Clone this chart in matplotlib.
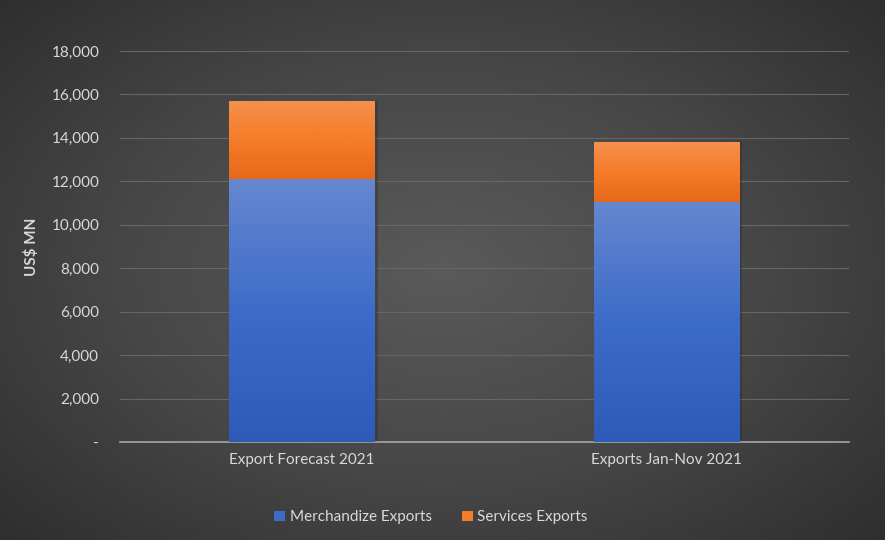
import numpy as np
import matplotlib
matplotlib.use("Agg")
import matplotlib.pyplot as plt
from matplotlib.colors import LinearSegmentedColormap
from matplotlib.patches import Patch
from matplotlib.ticker import FuncFormatter

categories = ["Export Forecast 2021", "Exports Jan-Nov 2021"]
merchandise = [12100, 11060]
services = [3610, 2740]
series_names = ["Merchandize Exports", "Services Exports"]

plt.rcParams['font.family'] = ['Lato', 'DejaVu Sans']
txt = "#d9d9d9"

fig = plt.figure(figsize=(8.85, 5.4), dpi=100)

# radial gradient background
bg = fig.add_axes([0, 0, 1, 1], zorder=-10)
yy, xx = np.mgrid[-1:1:270j, -1:1:443j]
r = np.sqrt((xx * 0.9) ** 2 + (yy * 0.85) ** 2)
bgcmap = LinearSegmentedColormap.from_list("bg", ["#5a5a5a", "#474747", "#2c2c2c"])
bg.imshow(r, cmap=bgcmap, vmin=0, vmax=1.3, aspect="auto", extent=[0, 1, 0, 1])
bg.set_axis_off()

ax = fig.add_axes([0.1356, 0.1815, 0.8234, 0.7241])
ax.patch.set_alpha(0)

blue_cmap = LinearSegmentedColormap.from_list("b", ["#2d5bb7", "#3d6cc8", "#6587d0"])
orange_cmap = LinearSegmentedColormap.from_list("o", ["#e6691a", "#f57c28", "#f5914f"])

x = np.arange(len(categories))
w = 0.4


def grad_bar(xc, bottom, height, cmap):
    bar = ax.bar(xc, height, w, bottom=bottom, color="none", edgecolor="none", zorder=3)[0]
    grad = np.linspace(0, 1, 256).reshape(-1, 1)
    im = ax.imshow(grad, cmap=cmap, origin="lower", aspect="auto",
                   extent=[xc - w / 2, xc + w / 2, bottom, bottom + height], zorder=3)
    im.set_clip_path(bar)
    # faint shadow
    ax.bar(xc + 0.008, height, w, bottom=bottom, color="#262626", alpha=0.35, zorder=2.5)


for i in range(len(categories)):
    grad_bar(x[i], 0, merchandise[i], blue_cmap)
    grad_bar(x[i], merchandise[i], services[i], orange_cmap)

ax.set_xlim(-0.5, 1.5)
ax.set_ylim(0, 18000)
ax.set_yticks(np.arange(0, 18001, 2000))
ax.yaxis.set_major_formatter(FuncFormatter(lambda v, p: "-" if v == 0 else "{:,.0f}".format(v)))
ax.set_xticks(x)
ax.set_xticklabels(categories)
ax.tick_params(axis="both", length=0, colors=txt, labelsize=11)
ax.tick_params(axis="y", pad=15)
ax.tick_params(axis="x", pad=8)
ax.grid(axis="y", color="#666666", linewidth=0.8, zorder=0)
ax.set_axisbelow(True)
for s in ["top", "right", "left"]:
    ax.spines[s].set_visible(False)
ax.spines["bottom"].set_color("#a6a6a6")
ax.spines["bottom"].set_linewidth(1.2)
ax.set_ylabel("US$ MN", color=txt, fontsize=11, fontweight="bold", labelpad=9)

handles = [Patch(facecolor="#3d6cc8"), Patch(facecolor="#f57c28")]
fig.legend(handles, series_names, loc="center", bbox_to_anchor=(0.487, 0.042), ncol=2,
           frameon=False, fontsize=11, labelcolor=txt, handlelength=0.7, handleheight=0.7,
           handletextpad=0.3, columnspacing=2.0)

fig.savefig("out.png", dpi=100)
